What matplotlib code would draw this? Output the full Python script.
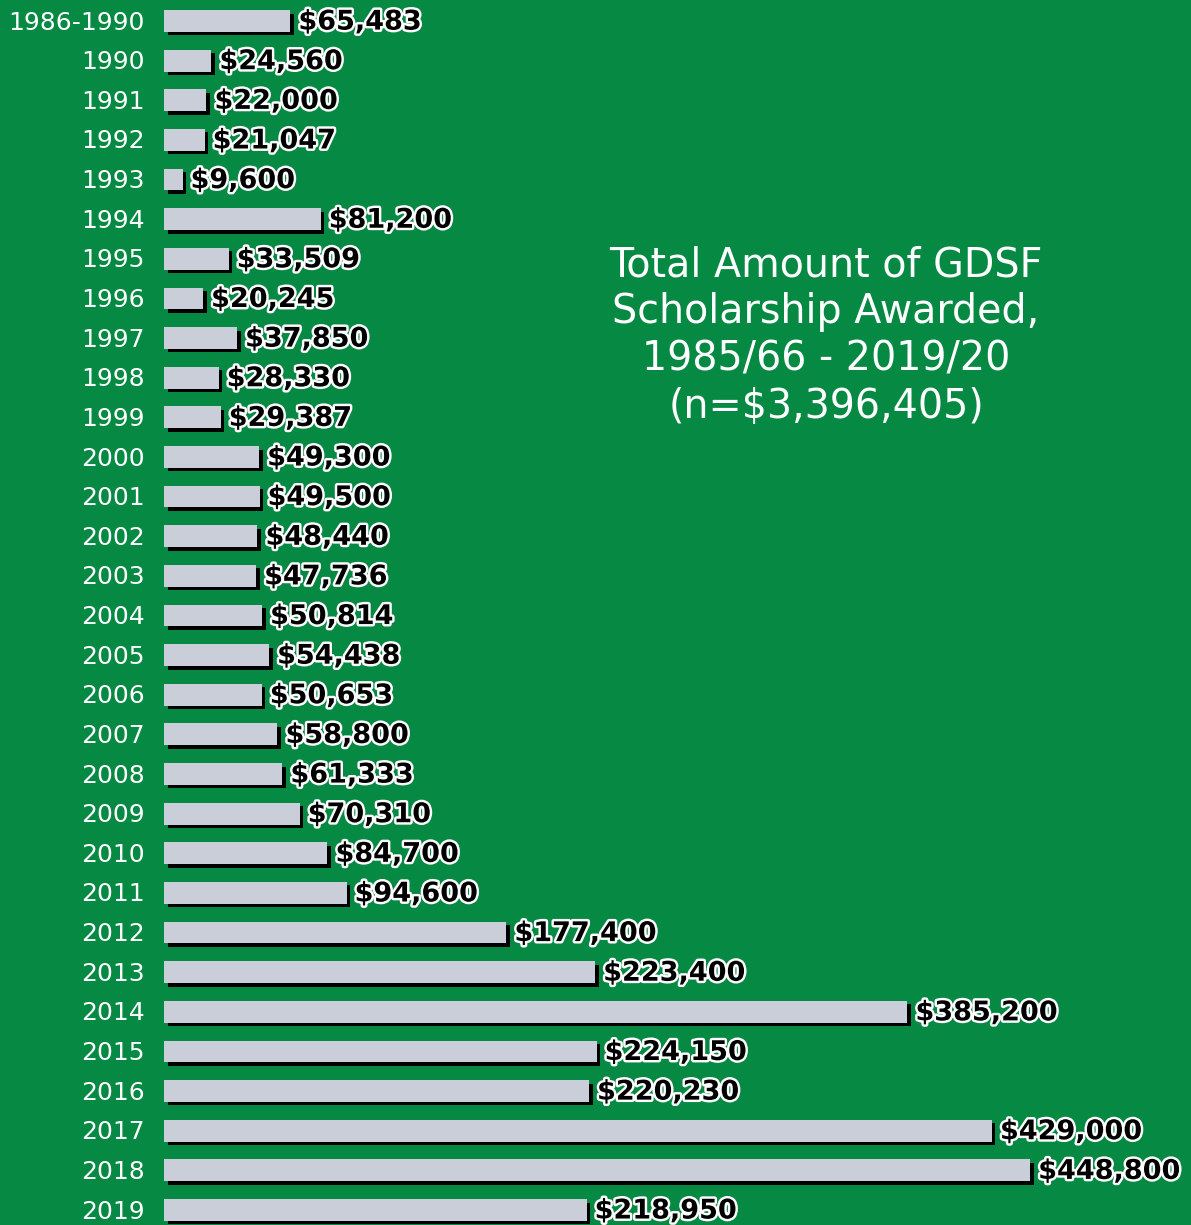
import matplotlib.pyplot as plt
import matplotlib.patheffects as pe
from matplotlib.transforms import ScaledTranslation

years = ['1986-1990', '1990', '1991', '1992', '1993', '1994', '1995', '1996',
         '1997', '1998', '1999', '2000', '2001', '2002', '2003', '2004', '2005',
         '2006', '2007', '2008', '2009', '2010', '2011', '2012', '2013', '2014',
         '2015', '2016', '2017', '2018', '2019']
amounts = [65483, 24560, 22000, 21047, 9600, 81200, 33509, 20245, 37850, 28330,
           29387, 49300, 49500, 48440, 47736, 50814, 54438, 50653, 58800, 61333,
           70310, 84700, 94600, 177400, 223400, 385200, 224150, 220230, 429000,
           448800, 218950]
title = 'Total Amount of GDSF\nScholarship Awarded,\n1985/66 - 2019/20\n(n=\\$3,396,405)'

green = '#068943'
bar_color = '#c9ced9'
scale = 0.00193  # pixels per dollar

fig = plt.figure(figsize=(11.91, 12.25), dpi=100, facecolor=green)
ax = fig.add_axes([164 / 1191, 0, 1 - 164 / 1191, 1])
ax.set_facecolor(green)

y = list(range(len(years)))
shadow = ax.transData + ScaledTranslation(3.5 / 100, -3.5 / 100, fig.dpi_scale_trans)
ax.barh(y, amounts, height=0.55, color='black', transform=shadow, zorder=1)
ax.barh(y, amounts, height=0.55, color=bar_color, zorder=2)

ax.set_xlim(0, (1191 - 164) / scale)
ax.set_ylim(30.38, -0.53)

for yi, v, lab in zip(y, amounts, years):
    ax.text(-19 / scale, yi + 0.04, lab, ha='right', va='center', color='white',
            fontsize=18, family='DejaVu Sans')
    t = ax.text(v + 8 / scale, yi + 0.04, '\\$' + format(v, ','), ha='left',
                va='center', color='black', fontsize=19.5, family='DejaVu Sans',
                fontweight='bold', clip_on=False)
    t.set_path_effects([pe.Stroke(linewidth=3.5, foreground='white'), pe.Normal()])

fig.text(826 / 1191, 1 - 336 / 1225, title, ha='center', va='center', color='white',
         fontsize=28.5, family='DejaVu Sans', linespacing=1.23)

ax.axis('off')
fig.savefig('out.png', dpi=100, facecolor=green)
